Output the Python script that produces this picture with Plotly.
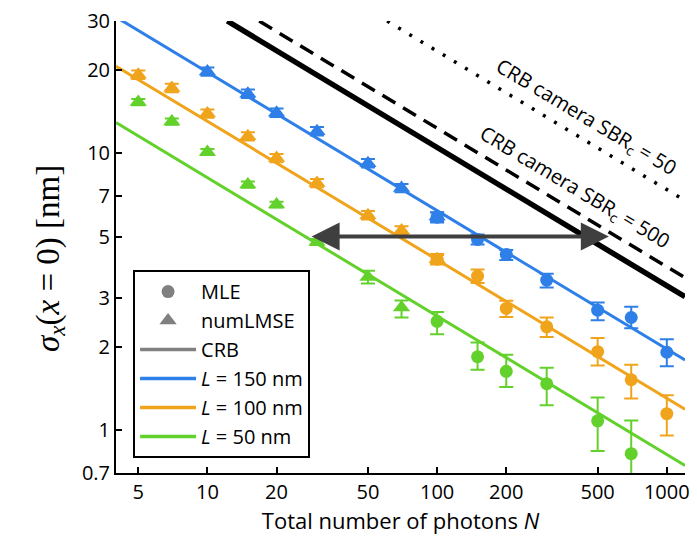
import numpy as np
import plotly.graph_objects as go

# Photon counts at which the estimators were evaluated
n_tri_blue = [10, 15, 20, 30, 50, 70, 100]
tri_blue = [19.7, 16.4, 14.0, 12.0, 9.2, 7.48, 5.9]
n_tri_orange = [5, 7, 10, 15, 20, 30, 50, 70, 100]
tri_orange = [19.2, 17.2, 13.9, 11.5, 9.6, 7.8, 5.97, 5.26, 4.14]
n_tri_green = [5, 7, 10, 15, 20, 30, 50, 70]
tri_green = [15.3, 13.0, 10.1, 7.7, 6.52, 4.78, 3.57, 2.77]
tri_green_up = [0.4, 0.35, 0.25, 0.2, 0.15, 0.12, 0.19, 0.17]
tri_green_dn = [0.4, 0.35, 0.25, 0.2, 0.15, 0.12, 0.19, 0.22]

# MLE results with error bars
n_mle_blue = [100, 150, 200, 300, 500, 700, 1000]
mle_blue = [5.87, 4.88, 4.31, 3.48, 2.71, 2.55, 1.91]
mle_blue_up = [0.25, 0.2, 0.16, 0.19, 0.18, 0.24, 0.22]
mle_blue_dn = [0.25, 0.2, 0.2, 0.21, 0.22, 0.22, 0.21]
n_mle_orange = [100, 150, 200, 300, 500, 700, 1000]
mle_orange = [4.14, 3.60, 2.75, 2.36, 1.92, 1.52, 1.146]
mle_orange_up = [0.18, 0.2, 0.18, 0.19, 0.23, 0.2, 0.19]
mle_orange_dn = [0.18, 0.2, 0.19, 0.19, 0.21, 0.22, 0.19]
n_mle_green = [100, 150, 200, 300, 500, 700]
mle_green = [2.47, 1.84, 1.63, 1.47, 1.08, 0.822]
mle_green_up = [0.2, 0.23, 0.24, 0.21, 0.23, 0.26]
mle_green_dn = [0.25, 0.19, 0.2, 0.24, 0.24, 0.26]

# Cramer-Rao bounds (straight lines in log-log)
n_crb = [4, 1200]
crb_blue = [31.0, 1.79]
crb_orange = [20.6, 1.19]
crb_green = [12.9, 0.745]
n_cam = [12.2, 1200]
cam_solid = [30, 3.03]
n_cam500 = [16.8, 1200]
cam_500 = [30, 3.55]
n_cam50 = [60.6, 1200]
cam_50 = [30, 6.74]

# Improvement arrow at sigma = 5 nm
arrow_n = [28, 559]
arrow_sigma = 5

x_ticks = [5, 10, 20, 50, 100, 200, 500, 1000]
y_ticks = [0.7, 1, 2, 3, 5, 7, 10, 20, 30]
y_ticklabels = ["0.7", "1", "2", "3", "5", "7", "10", "20", "30"]

BLUE = "#2E7FE8"
ORANGE = "#F0A41C"
GREEN = "#63D12B"
GRAY = "#808080"

fig = go.Figure()

def line(x, y, color, width, dash="solid"):
    fig.add_trace(go.Scatter(x=x, y=y, mode="lines", showlegend=False,
                             line=dict(color=color, width=width, dash=dash),
                             hoverinfo="skip"))

line(n_cam50, cam_50, "black", 3.5, "3px,10px")
line(n_cam500, cam_500, "black", 3.5, "15px,9px")
line(n_cam, cam_solid, "black", 5.5)
line(n_crb, crb_blue, BLUE, 3)
line(n_crb, crb_orange, ORANGE, 3)
line(n_crb, crb_green, GREEN, 3)

def tri(x, y, color, up=None, dn=None):
    y = np.array(y)
    if up is None:
        up = list(0.035 * y)
        dn = list(0.035 * y)
    fig.add_trace(go.Scatter(
        x=x, y=y, mode="markers", showlegend=False,
        marker=dict(symbol="triangle-up", size=15, color=color),
        error_y=dict(type="data", array=up, arrayminus=dn, symmetric=False,
                     color=color, thickness=2, width=7)))

def circ(x, y, color, up, dn):
    fig.add_trace(go.Scatter(
        x=x, y=y, mode="markers", showlegend=False,
        marker=dict(symbol="circle", size=13, color=color),
        error_y=dict(type="data", array=up, arrayminus=dn, symmetric=False,
                     color=color, thickness=2, width=7)))

tri(n_tri_blue, tri_blue, BLUE)
tri(n_tri_orange, tri_orange, ORANGE)
tri(n_tri_green, tri_green, GREEN, tri_green_up, tri_green_dn)
circ(n_mle_blue, mle_blue, BLUE, mle_blue_up, mle_blue_dn)
circ(n_mle_orange, mle_orange, ORANGE, mle_orange_up, mle_orange_dn)
circ(n_mle_green, mle_green, GREEN, mle_green_up, mle_green_dn)

# Legend entries
legend_items = [
    ("MLE", dict(mode="markers", marker=dict(symbol="circle", size=13, color=GRAY))),
    ("numLMSE", dict(mode="markers", marker=dict(symbol="triangle-up", size=15, color=GRAY))),
    ("CRB", dict(mode="lines", line=dict(color=GRAY, width=3.5))),
    ("<i>L</i> = 150 nm", dict(mode="lines", line=dict(color=BLUE, width=3.5))),
    ("<i>L</i> = 100 nm", dict(mode="lines", line=dict(color=ORANGE, width=3.5))),
    ("<i>L</i> = 50 nm", dict(mode="lines", line=dict(color=GREEN, width=3.5))),
]
for i, (name, kw) in enumerate(legend_items):
    fig.add_trace(go.Scatter(x=[None], y=[None], name=name, legendgroup=f"g{i}",
                             showlegend=True, **kw))

font = "Open Sans, Noto Sans, sans-serif"

fig.add_annotation(x=np.log10(arrow_n[1]), y=np.log10(arrow_sigma),
                   ax=np.log10(arrow_n[0]), ay=np.log10(arrow_sigma),
                   xref="x", yref="y", axref="x", ayref="y", text="",
                   showarrow=True, arrowhead=2, arrowside="end+start",
                   arrowsize=1.4, arrowwidth=4, arrowcolor="#3f3f3f")

fig.add_annotation(x=np.log10(445), y=np.log10(13.4), xref="x", yref="y",
                   text="CRB camera SBR<sub>c</sub> = 50", showarrow=False,
                   textangle=30.9, font=dict(family=font, size=20, color="black"))
fig.add_annotation(x=np.log10(395), y=np.log10(7.5), xref="x", yref="y",
                   text="CRB camera SBR<sub>c</sub> = 500", showarrow=False,
                   textangle=30.9, font=dict(family=font, size=20, color="black"))

fig.add_annotation(x=-0.155, y=0.474, xref="paper", yref="paper",
                   text="<i>σ<sub>x</sub></i>(<i>x</i> = 0) [nm]", showarrow=False,
                   textangle=-90,
                   font=dict(family="Liberation Serif, DejaVu Serif, serif", size=33,
                             color="black"))

fig.update_xaxes(type="log", range=[np.log10(4), np.log10(1200)],
                 tickvals=x_ticks, ticktext=[str(v) for v in x_ticks],
                 ticks="inside", ticklen=6, tickwidth=2, tickcolor="black",
                 showline=True, linecolor="black", linewidth=2,
                 showgrid=False, zeroline=False,
                 tickfont=dict(family=font, size=20, color="black"),
                 title=dict(text="Total number of photons <i>N</i>",
                            font=dict(family=font, size=22, color="black"),
                            standoff=6))
fig.update_yaxes(type="log", range=[np.log10(0.7), np.log10(30)],
                 tickvals=y_ticks, ticktext=y_ticklabels,
                 ticks="inside", ticklen=6, tickwidth=2, tickcolor="black",
                 showline=True, linecolor="black", linewidth=2,
                 showgrid=False, zeroline=False,
                 tickfont=dict(family=font, size=20, color="black"))

fig.update_layout(
    width=697, height=545,
    margin=dict(l=116, r=7, t=19, b=72),
    paper_bgcolor="white", plot_bgcolor="white",
    legend=dict(x=0.03, y=0.449, xanchor="left", yanchor="top",
                bgcolor="white", bordercolor="black", borderwidth=2,
                font=dict(family=font, size=20, color="black"),
                tracegroupgap=0, itemwidth=56),
)

fig.write_html("out.html")
